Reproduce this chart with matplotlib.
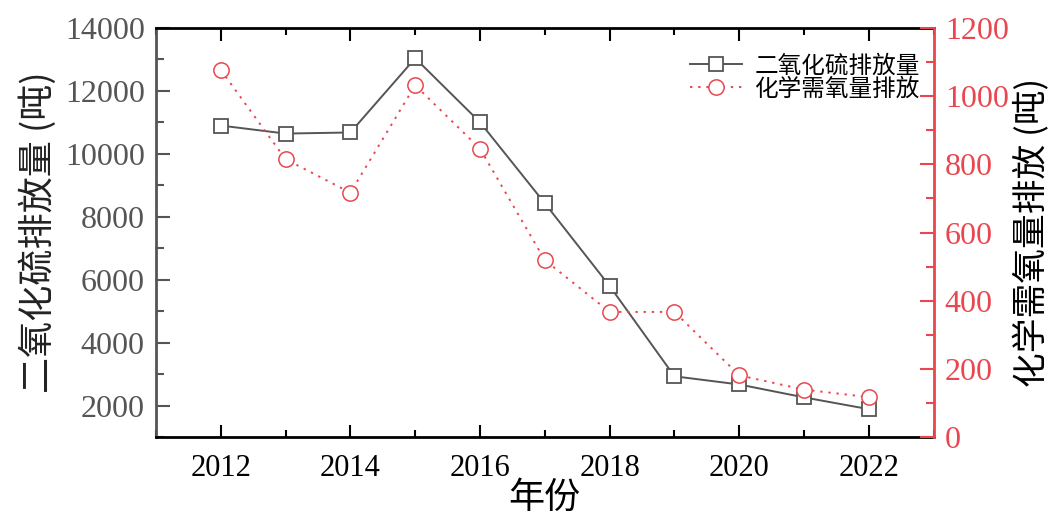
import matplotlib
matplotlib.use("Agg")
import matplotlib.pyplot as plt
from matplotlib.ticker import MultipleLocator

years = [2012, 2013, 2014, 2015, 2016, 2017, 2018, 2019, 2020, 2021, 2022]
so2 = [10900, 10645, 10680, 13040, 11005, 8430, 5800, 2930, 2670, 2260, 1885]
cod = [1077, 815, 717, 1032, 846, 519, 367, 367, 181, 139, 117]
so2_name = "二氧化硫排放量"
cod_name = "化学需氧量排放"
left_label = "二氧化硫排放量 (吨)"
right_label = "化学需氧量排放 (吨)"
x_label = "年份"

CJK = ["Noto Sans CJK SC", "DejaVu Sans"]
NUM = ["Liberation Serif", "DejaVu Serif"]
grey = "#555555"
red = "#e8474f"

fig = plt.figure(figsize=(10.61, 5.17), dpi=100)
ax = fig.add_axes([0.147, 0.1547, 0.733, 0.7911])
ax2 = ax.twinx()

l1, = ax.plot(years, so2, color=grey, lw=1.4, marker="s", ms=9.5,
              mfc="white", mec=grey, mew=1.3, label=so2_name, zorder=3)
l2, = ax2.plot(years, cod, color=red, lw=1.4, ls=(0, (1.2, 3)), marker="o", ms=11,
               mfc="white", mec=red, mew=1.1, label=cod_name, zorder=3)

ax.set_xlim(2011, 2023)
ax.set_ylim(1000, 14000)
ax2.set_ylim(0, 1200)

ax.xaxis.set_major_locator(MultipleLocator(2))
ax.xaxis.set_minor_locator(MultipleLocator(1))
ax.yaxis.set_major_locator(MultipleLocator(2000))
ax.yaxis.set_minor_locator(MultipleLocator(1000))
ax2.yaxis.set_major_locator(MultipleLocator(200))
ax2.yaxis.set_minor_locator(MultipleLocator(100))

ax.tick_params(axis="x", which="both", direction="in", top=True, bottom=True,
               colors="black", labelsize=22, pad=12, width=1.5)
ax.tick_params(axis="x", which="major", length=9)
ax.tick_params(axis="x", which="minor", length=5)
ax.tick_params(axis="y", which="both", direction="in", left=True, right=False,
               color=grey, labelcolor=grey, labelsize=23, width=1.5, pad=8)
ax.tick_params(axis="y", which="major", length=10)
ax.tick_params(axis="y", which="minor", length=6)
ax2.tick_params(axis="y", which="both", direction="in", right=True,
                color=red, labelcolor=red, labelsize=23, width=1.5, pad=8)
ax2.tick_params(axis="y", which="major", length=10)
ax2.tick_params(axis="y", which="minor", length=6)

for lab in ax.get_xticklabels() + ax.get_yticklabels() + ax2.get_yticklabels():
    lab.set_family(NUM)

for s in ["top", "bottom"]:
    ax.spines[s].set_color("black")
    ax.spines[s].set_linewidth(2)
ax.spines["left"].set_color(grey)
ax.spines["left"].set_linewidth(2)
ax2.spines["right"].set_color(red)
ax2.spines["right"].set_linewidth(2)
ax2.spines["left"].set_visible(False)
ax2.spines["top"].set_visible(False)
ax2.spines["bottom"].set_visible(False)

ax.set_ylabel(left_label, family=CJK, fontsize=26, color="#222222", labelpad=6)
ax2.set_ylabel(right_label, family=CJK, fontsize=25, color="black", labelpad=4)
ax.set_xlabel(x_label, family=CJK, fontsize=26, labelpad=-2)

leg = ax.legend([l1, l2], [so2_name, cod_name], loc="upper right",
                bbox_to_anchor=(1.0, 0.97), frameon=False,
                prop={"family": CJK, "size": 17}, handlelength=2.2,
                handletextpad=0.5, labelspacing=0.0, borderaxespad=0.2)

fig.savefig("out.png", dpi=100)
